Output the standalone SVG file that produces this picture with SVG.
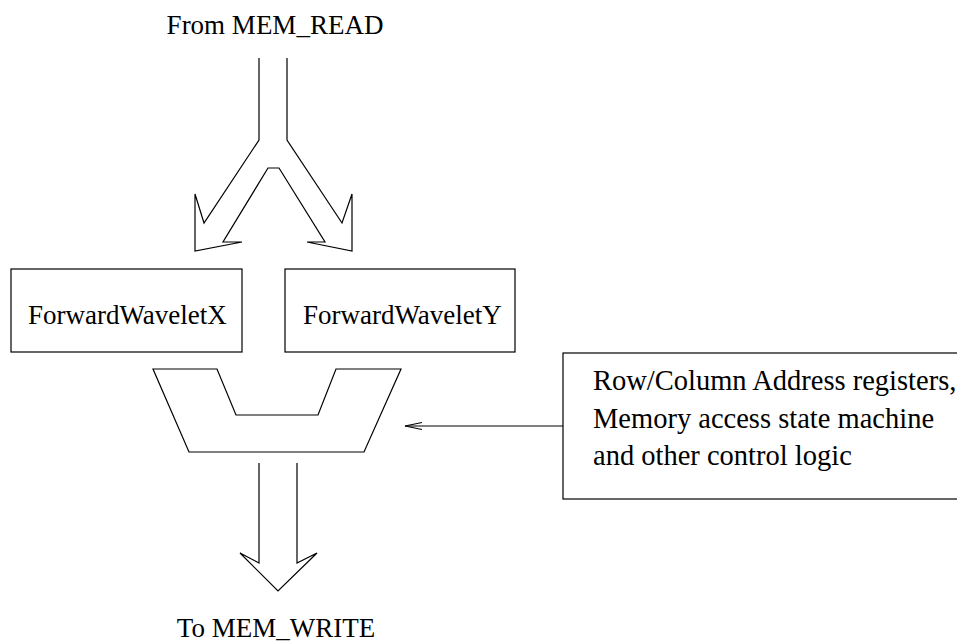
<svg xmlns="http://www.w3.org/2000/svg" width="957" height="642" viewBox="0 0 957 642">
<defs>
<style>
.s{fill:none;stroke:#000;stroke-width:1.2;stroke-linejoin:miter}
text{font-family:'Liberation Serif','DejaVu Serif',serif;font-size:27px;fill:#000}
.c{font-size:28.5px}
</style>
<marker id="ah" markerWidth="20" markerHeight="10" refX="18" refY="5" orient="auto" markerUnits="userSpaceOnUse">
<path d="M1,1.5 L18,5 L1,8.5" fill="none" stroke="#000" stroke-width="1.2"/>
</marker>
</defs>
<rect width="957" height="642" fill="#fff"/>
<g id="labels">
<text x="275" y="34" text-anchor="middle" font-family="Liberation Serif">From MEM_READ</text>
<text x="276" y="637" text-anchor="middle" font-family="Liberation Serif">To MEM_WRITE</text>
</g>
<g id="fwx">
<rect class="s" x="11" y="269" width="231" height="83"/>
<text x="28" y="324" font-family="Liberation Serif">ForwardWaveletX</text>
</g>
<g id="fwy">
<rect class="s" x="285" y="269" width="230" height="83"/>
<text x="303" y="324" font-family="Liberation Serif">ForwardWaveletY</text>
</g>
<g id="mux">
<polygon class="s" points="153,369 217,369 236,415 318,415 336,369 401,369 364,452 189,452"/>
</g>
<g id="control">
<rect class="s" x="563" y="353" width="400" height="146"/>
<text class="c" x="593" y="390" font-family="Liberation Serif">Row/Column Address registers,</text>
<text class="c" x="593" y="428" font-family="Liberation Serif">Memory access state machine</text>
<text class="c" x="593" y="465" font-family="Liberation Serif">and other control logic</text>
</g>
<g id="connectors">
<polyline class="s" points="259,58 259,140 204,223 195,194 195,251 242,242 223,242 268,168 279,168 325,242 307,242 352,251 352,194 342,223 287,140 287,58"/>
<polyline class="s" points="259,463 259,563 240,553 278,591 317,553 297,563 297,463"/>
<line class="s" x1="563" y1="426" x2="405" y2="426" marker-end="url(#ah)"/>
</g>
</svg>
